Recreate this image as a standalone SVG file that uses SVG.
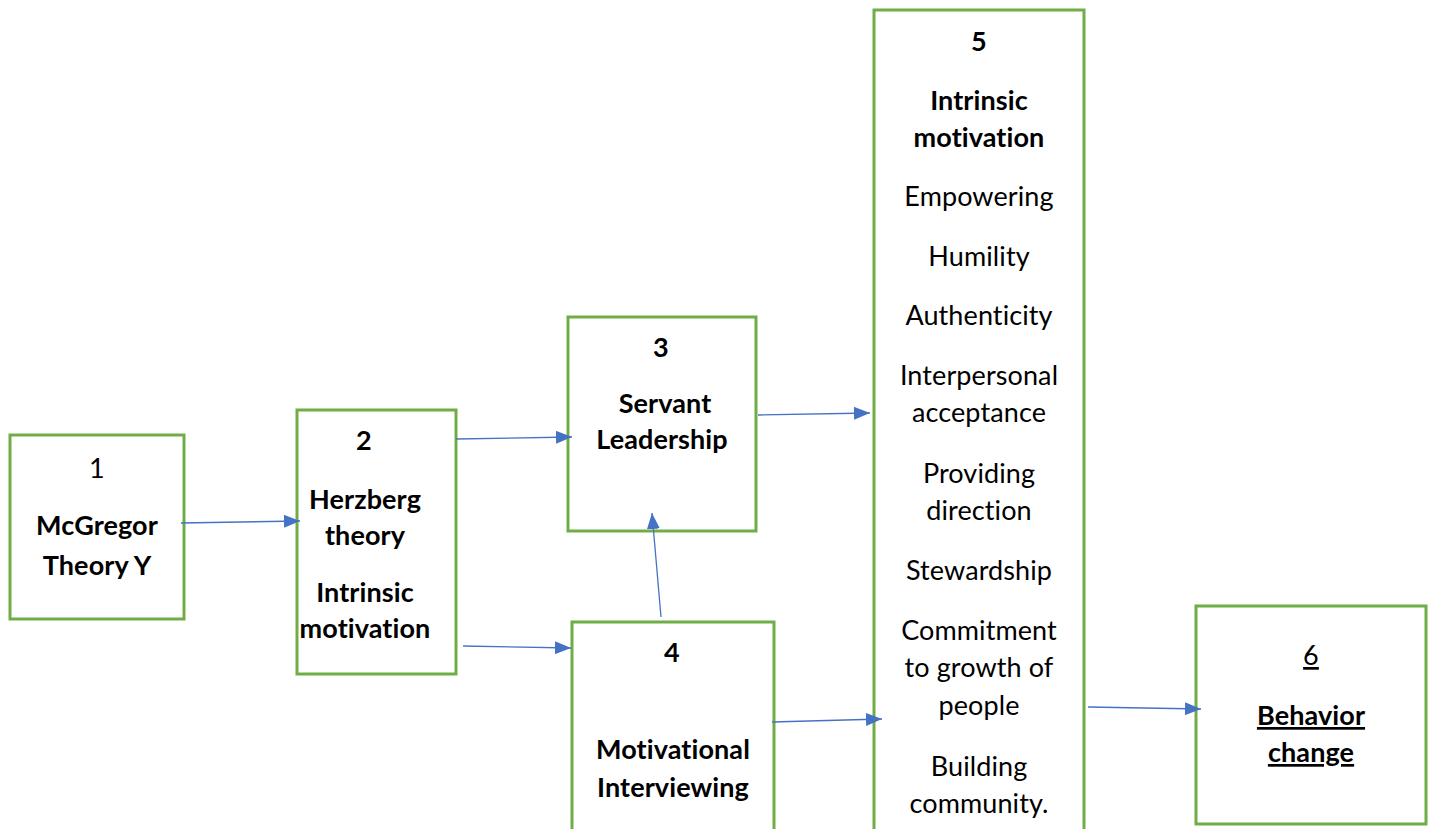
<svg xmlns="http://www.w3.org/2000/svg" width="1434" height="829" viewBox="0 0 1434 829">
  <defs>
    <style>
      .box { fill: #ffffff; stroke: #70AD47; stroke-width: 3; }
      .t { font-family: Lato, "Liberation Sans", sans-serif; font-size: 27px; fill: #000000; text-anchor: middle; font-variant-ligatures: none; font-feature-settings: "liga" 0, "dlig" 0, "calt" 0; letter-spacing: 0.1px; }
      .b { font-weight: bold; }
      .u { text-decoration: underline; }
      .conn { stroke: #4472C4; stroke-width: 1.3; fill: none; marker-end: url(#arrow); }
    </style>
    <marker id="arrow" viewBox="0 0 16 13" refX="16" refY="6.5" markerWidth="16" markerHeight="13" markerUnits="userSpaceOnUse" orient="auto">
      <path d="M0,0 L16,6.5 L0,13 Z" fill="#4472C4"/>
    </marker>
  </defs>
  <rect width="1434" height="829" fill="#ffffff"/>

  <g id="node1">
    <rect class="box" x="10" y="435" width="174" height="184"/>
    <text class="t" x="97" y="478">1</text>
    <text class="t b" x="97" y="535">McGregor</text>
    <text class="t b" x="97" y="575">Theory Y</text>
  </g>

  <g id="node2">
    <rect class="box" x="297" y="410" width="159" height="264"/>
    <text class="t b" x="364" y="450">2</text>
    <text class="t b" x="365" y="509">Herzberg</text>
    <text class="t b" x="365" y="545">theory</text>
    <text class="t b" x="365" y="602">Intrinsic</text>
    <text class="t b" x="365" y="638">motivation</text>
  </g>

  <g id="node3">
    <rect class="box" x="568" y="317" width="188" height="214"/>
    <text class="t b" x="661" y="357">3</text>
    <text class="t b" x="665" y="413">Servant</text>
    <text class="t b" x="662" y="449">Leadership</text>
  </g>

  <g id="node4">
    <rect class="box" x="572" y="622" width="202" height="220"/>
    <text class="t b" x="672" y="662">4</text>
    <text class="t b" x="673" y="759">Motivational</text>
    <text class="t b" x="673" y="797">Interviewing</text>
  </g>

  <g id="node5">
    <rect class="box" x="874" y="10" width="210" height="840"/>
    <text class="t b" x="979" y="51">5</text>
    <text class="t b" x="979" y="110">Intrinsic</text>
    <text class="t b" x="979" y="147">motivation</text>
    <text class="t" x="979" y="206">Empowering</text>
    <text class="t" x="979" y="266">Humility</text>
    <text class="t" x="979" y="325">Authenticity</text>
    <text class="t" x="979" y="385">Interpersonal</text>
    <text class="t" x="979" y="422">acceptance</text>
    <text class="t" x="979" y="483">Providing</text>
    <text class="t" x="979" y="520">direction</text>
    <text class="t" x="979" y="580">Stewardship</text>
    <text class="t" x="979" y="640">Commitment</text>
    <text class="t" x="979" y="677">to growth of</text>
    <text class="t" x="979" y="715">people</text>
    <text class="t" x="979" y="776">Building</text>
    <text class="t" x="979" y="813">community.</text>
  </g>

  <g id="node6">
    <rect class="box" x="1196" y="606" width="230" height="218"/>
    <text class="t u" x="1311" y="665">6</text>
    <text class="t b u" x="1311" y="725">Behavior</text>
    <text class="t b u" x="1311" y="762">change</text>
  </g>

  <g id="connectors">
    <line class="conn" x1="181" y1="523" x2="300" y2="521"/>
    <line class="conn" x1="456" y1="439" x2="572" y2="437"/>
    <line class="conn" x1="463" y1="646" x2="571" y2="648"/>
    <line class="conn" x1="661" y1="617" x2="652" y2="513"/>
    <line class="conn" x1="758" y1="415" x2="870" y2="413"/>
    <line class="conn" x1="772" y1="722" x2="882" y2="719"/>
    <line class="conn" x1="1088" y1="707" x2="1201" y2="709"/>
  </g>
</svg>
